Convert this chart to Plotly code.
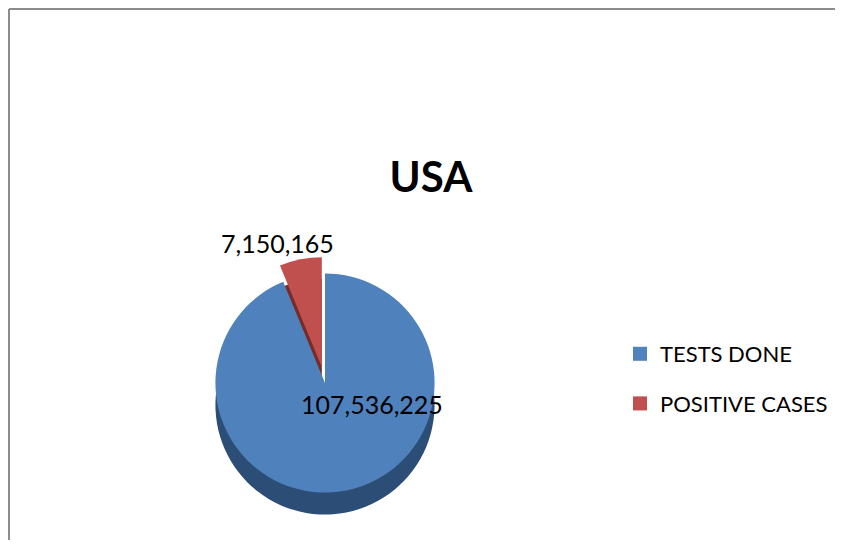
import plotly.graph_objects as go

categories = ["TESTS DONE", "POSITIVE CASES"]
values = [107536225, 7150165]
colors = ["#4F81BD", "#C0504D"]
side_colors = ["#2C4D75", "#772C2A"]
title_text = "USA"

# page offset of the plot div (body margin)
OFF = 8
W, H = 843 - 2 * OFF, 548 - 2 * OFF
FONT = "Lato, Calibri, Carlito, 'Open Sans', sans-serif"

def px_x(p):
    return (p - OFF) / W

def px_y(p):
    return 1 - (p - OFF) / H

cx, cy, d = 325, 383, 252
depth = 22

fig = go.Figure()

# depth (side) layer
fig.add_trace(go.Pie(
    labels=categories, values=values, sort=False, direction="clockwise", rotation=0,
    pull=[0, 0.15], marker=dict(colors=side_colors, line=dict(width=0)),
    textinfo="none", hoverinfo="skip", showlegend=False,
    domain=dict(x=[px_x(cx - d / 2), px_x(cx + d / 2)],
                y=[px_y(cy + depth + d / 2), px_y(cy + depth - d / 2)]),
))

fig.add_trace(go.Pie(
    labels=categories, values=values, sort=False, direction="clockwise", rotation=0,
    pull=[0, 0.15], marker=dict(colors=colors, line=dict(width=0)),
    textinfo="none", showlegend=False,
    domain=dict(x=[px_x(cx - d / 2), px_x(cx + d / 2)],
                y=[px_y(cy + d / 2), px_y(cy - d / 2)]),
))

# legend entries
for i, (name, col) in enumerate(zip(categories, colors)):
    fig.add_trace(go.Scatter(
        x=[None], y=[None], mode="markers", name=name,
        marker=dict(symbol="square", size=14, color=col),
        legendgroup=name, showlegend=True,
    ))

# data labels
label_pos = [(372, 404), (277, 243)]
annotations = []
for v, (lx, ly) in zip(values, label_pos):
    annotations.append(dict(
        text=f"{v:,}", x=px_x(lx), y=px_y(ly), xref="paper", yref="paper",
        xanchor="center", yanchor="middle", showarrow=False,
        font=dict(family=FONT, size=25, color="#000000"),
    ))

fig.update_layout(
    width=W, height=H,
    margin=dict(l=0, r=0, t=0, b=0),
    paper_bgcolor="white", plot_bgcolor="white",
    xaxis=dict(visible=False), yaxis=dict(visible=False),
    title=dict(text="<b>" + title_text + "</b>", x=px_x(431), y=px_y(177),
               xanchor="center", yanchor="middle", xref="paper", yref="paper",
               font=dict(family=FONT, size=42, color="#000000")),
    legend=dict(x=px_x(620), y=px_y(379), xanchor="left", yanchor="middle",
                font=dict(family=FONT, size=22, color="#000000"),
                tracegroupgap=18, itemwidth=30, bgcolor="rgba(0,0,0,0)"),
    annotations=annotations,
    shapes=[
        dict(type="line", xref="paper", yref="paper",
             x0=px_x(9), x1=1.2, y0=px_y(9), y1=px_y(9),
             line=dict(color="#8C8C8C", width=2), layer="above"),
        dict(type="line", xref="paper", yref="paper",
             x0=px_x(9), x1=px_x(9), y0=px_y(9), y1=-0.2,
             line=dict(color="#8C8C8C", width=2), layer="above"),
    ],
)

fig.write_html("out.html")
